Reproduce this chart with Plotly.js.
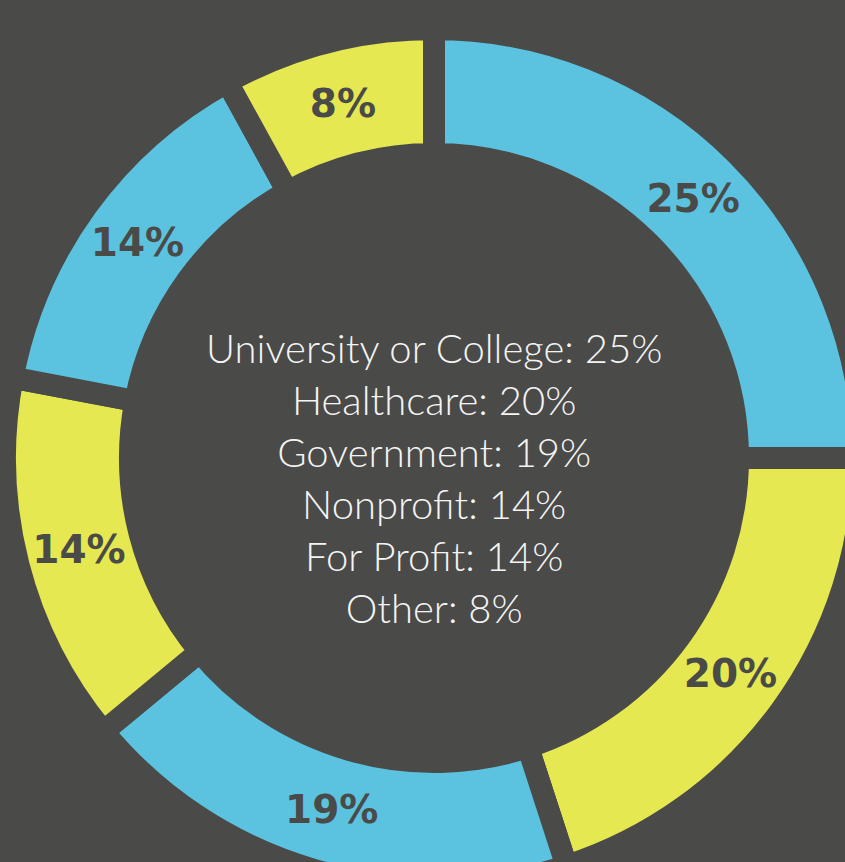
<!DOCTYPE html>
<html>
<head>
<meta charset="utf-8">
<script src="https://cdn.plot.ly/plotly-3.0.1.min.js"></script>
<style>
  html, body { margin:0; padding:0; width:845px; height:862px; overflow:hidden; background:#4a4a48; }
  #chart { position:absolute; left:5px; top:29px; width:858px; height:858px; }
</style>
</head>
<body>
<div id="chart"></div>
<script>
const categories = ["University or College", "Healthcare", "Government", "Nonprofit", "For Profit", "Other"];
const values = [25, 20, 19, 14, 14, 8];
const sliceColors = ["#5bc3df", "#e5e851", "#5bc3df", "#e5e851", "#5bc3df", "#e5e851"];

const bg = "#4a4a48";
const centerText = categories.map((c, i) => c + ": " + values[i] + "%").join("<br>");

const trace = {
  type: "pie",
  labels: categories,
  values: values,
  sort: false,
  direction: "clockwise",
  rotation: 0,
  hole: 0.7086,
  marker: { colors: sliceColors, line: { color: bg, width: 22 } },
  texttemplate: "%{value}%",
  textposition: "inside",
  insidetextorientation: "horizontal",
  textfont: { family: "DejaVu Sans", size: 39, color: bg, weight: 600 },
  hoverinfo: "none",
  showlegend: false,
  automargin: false
};

const layout = {
  width: 858, height: 858,
  margin: { l: 0, r: 0, t: 0, b: 0 },
  paper_bgcolor: bg,
  plot_bgcolor: bg,
  showlegend: false,
  annotations: [{
    text: centerText,
    x: 0.5, y: 0.5, xref: "paper", yref: "paper",
    xanchor: "center", yanchor: "middle",
    yshift: -20,
    showarrow: false,
    align: "center",
    font: { family: "Lato", size: 40, color: "#f4f4f4", weight: 300 }
  }]
};

Plotly.newPlot("chart", [trace], layout, { displayModeBar: false, staticPlot: true });
</script>
</body>
</html>
